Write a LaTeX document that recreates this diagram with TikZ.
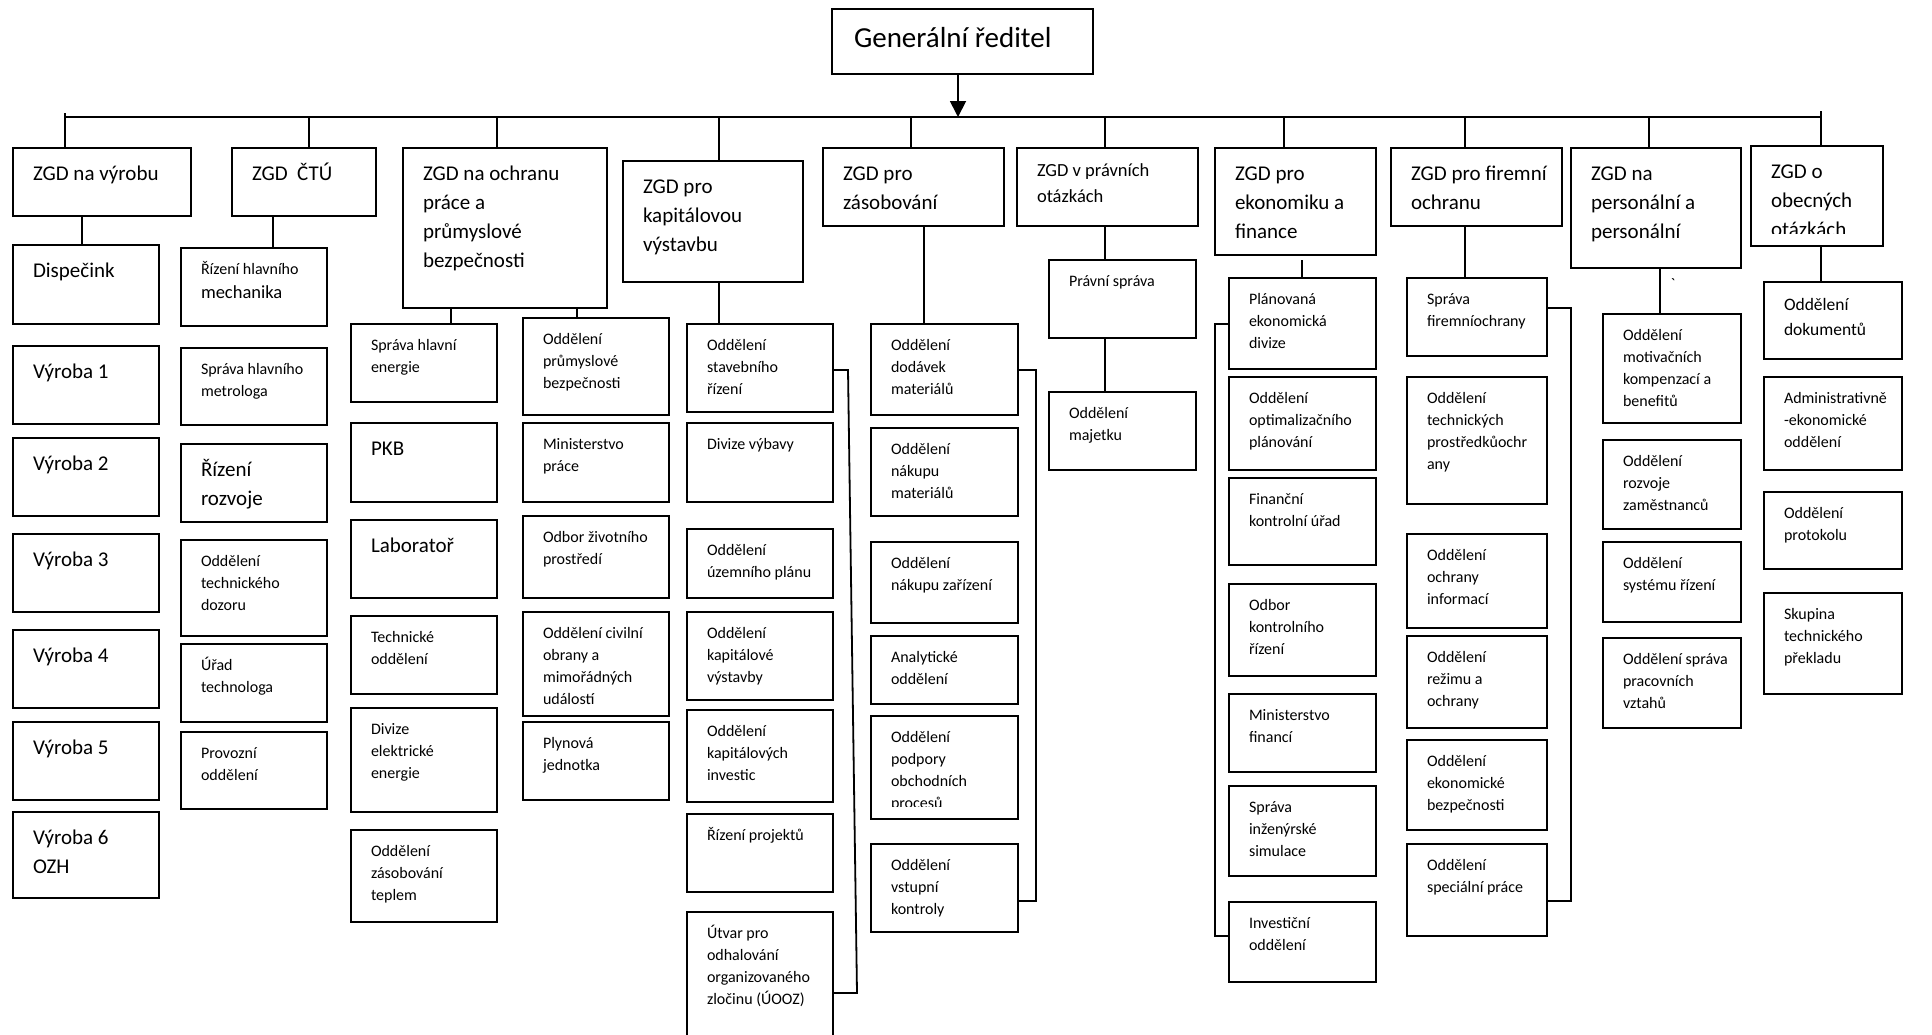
\documentclass[tikz,border=0pt]{standalone}
\usepackage{fontspec}
\setmainfont{Carlito}
\usetikzlibrary{arrows.meta}
\tikzset{
 boxst/.style={draw, line width=2.4pt, rectangle, inner sep=0pt, outer sep=0pt},
 conn/.style={line width=1.8pt},
 txt/.style={inner sep=0pt, outer sep=0pt, anchor=base west},
 big/.style={font=\fontsize{21}{29}\selectfont, yshift=-32pt},
 sml/.style={font=\fontsize{16}{22}\selectfont, yshift=-26pt},
 mid/.style={font=\fontsize{18.5}{26}\selectfont, yshift=-28pt},
 doc/.style={font=\fontsize{17.5}{25}\selectfont, yshift=-28pt},
 gdf/.style={font=\fontsize{29}{35}\selectfont, yshift=-38pt, xshift=2pt},
}
\newcommand\obox[7]{%
 \node[boxst, minimum width={(#4-#2)*1pt}, minimum height={(#5-#3)*1pt}, anchor=north west] (#1) at (#2,#3) {};
 \node[txt, #6] (#1-t) at ([xshift=20pt]#1.north west) {\begin{tabular}[t]{@{}l@{}}#7\end{tabular}};}
\newcommand\oboxc[8]{%
 \node[boxst, minimum width={(#4-#2)*1pt}, minimum height={(#5-#3)*1pt}, anchor=north west] (#1) at (#2,#3) {};
 \begin{scope}
 \clip (#2,#3) rectangle (#4,#8);
 \node[txt, #6] (#1-t) at ([xshift=20pt]#1.north west) {\begin{tabular}[t]{@{}l@{}}#7\end{tabular}};
 \end{scope}}
\begin{document}
\begin{tikzpicture}[x=1pt,y=-1pt]
\useasboundingbox (0,0) rectangle (1932,1034);
\clip (0,0) rectangle (1932,1034);
\fill[white] (0,0) rectangle (1932,1034);

% top
\obox{gd}{832}{9}{1093}{74}{gdf}{Generální ředitel}

% level 1
\obox{z1}{13}{148}{191}{216}{big}{ZGD na výrobu}
\obox{z2}{232}{148}{376}{216}{big}{ZGD\ \ ČTÚ}
\obox{z3}{403}{148}{607}{308}{big}{ZGD na ochranu\\práce a\\průmyslové\\bezpečnosti}
\obox{z4}{623}{161}{803}{282}{big}{ZGD pro\\kapitálovou\\výstavbu}
\obox{z5}{823}{148}{1004}{226}{big}{ZGD pro\\zásobování}
\obox{z6}{1017}{148}{1198}{226}{mid}{ZGD v právních\\otázkách}
\obox{z7}{1215}{148}{1376}{255}{big}{ZGD pro\\ekonomiku a\\finance}
\obox{z8}{1391}{148}{1562}{226}{big}{ZGD pro firemní\\ochranu}
\obox{z9}{1571}{148}{1741}{268}{big}{ZGD na\\personální a\\personální}
\oboxc{z10}{1751}{146}{1883}{246}{big}{ZGD o\\obecných\\otázkách}{233}

% column 1
\obox{disp}{13}{245}{159}{324}{big}{Dispečink}
\obox{v1}{13}{346}{159}{424}{big}{Výroba 1}
\obox{v2}{13}{438}{159}{516}{big}{Výroba 2}
\obox{v3}{13}{534}{159}{612}{big}{Výroba 3}
\obox{v4}{13}{630}{159}{708}{big}{Výroba 4}
\obox{v5}{13}{722}{159}{800}{big}{Výroba 5}
\obox{v6}{13}{812}{159}{898}{big}{Výroba 6\\OZH}

% column 2
\obox{mech}{181}{248}{327}{326}{sml}{Řízení hlavního\\[2pt]{\fontsize{18.5}{22}\selectfont mechanika}}
\obox{metr}{181}{348}{327}{425}{sml}{Správa hlavního\\metrologa}
\obox{rozv}{181}{444}{327}{522}{big}{Řízení\\rozvoje}
\obox{dozor}{181}{540}{327}{636}{sml}{Oddělení\\technického\\dozoru}
\obox{techn}{181}{644}{327}{722}{sml}{Úřad\\technologa}
\obox{prov}{181}{732}{327}{809}{sml}{Provozní\\oddělení}

% column 3
\obox{ener}{351}{324}{497}{402}{sml}{Správa hlavní\\energie}
\obox{pkb}{351}{423}{497}{502}{big}{PKB}
\obox{lab}{351}{520}{497}{598}{big}{Laboratoř}
\obox{tech}{351}{616}{497}{694}{sml}{Technické\\oddělení}
\obox{elek}{351}{708}{497}{812}{sml}{Divize\\elektrické\\energie}
\obox{tepl}{351}{830}{497}{922}{sml}{Oddělení\\zásobování\\teplem}

% column 4
\obox{prum}{523}{318}{669}{415}{sml}{Oddělení\\průmyslové\\bezpečnosti}
\obox{minp}{523}{423}{669}{502}{sml}{Ministerstvo\\práce}
\obox{ziv}{523}{516}{669}{598}{sml}{Odbor životního\\prostředí}
\obox{civ}{523}{612}{669}{716}{sml}{Oddělení civilní\\obrany a\\mimořádných\\událostí}
\obox{plyn}{523}{722}{669}{800}{sml}{Plynová\\jednotka}

% column 5
\obox{stav}{687}{324}{833}{412}{sml}{Oddělení\\stavebního\\řízení}
\obox{vyb}{687}{423}{833}{502}{sml}{Divize výbavy}
\obox{uzem}{687}{529}{833}{598}{sml}{Oddělení\\územního plánu}
\obox{kapv}{687}{612}{833}{700}{sml}{Oddělení\\kapitálové\\výstavby}
\obox{kapi}{687}{710}{833}{802}{sml}{Oddělení\\kapitálových\\investic}
\obox{proj}{687}{814}{833}{892}{sml}{Řízení projektů}
\obox{utv}{687}{912}{833}{1045}{sml}{Útvar pro\\odhalování\\organizovaného\\zločinu (ÚOOZ)}

% column 6
\obox{dod}{871}{324}{1018}{415}{sml}{Oddělení\\dodávek\\materiálů}
\obox{nakm}{871}{428}{1018}{516}{sml}{Oddělení\\nákupu\\materiálů}
\obox{nakz}{871}{542}{1018}{623}{sml}{Oddělení\\nákupu zařízení}
\obox{anal}{871}{636}{1018}{704}{sml}{Analytické\\oddělení}
\oboxc{podp}{871}{716}{1018}{819}{sml}{Oddělení\\podpory\\obchodních\\procesů}{806}
\obox{vstup}{871}{844}{1018}{932}{sml}{Oddělení\\vstupní\\kontroly}

% column 7
\obox{prav}{1049}{260}{1196}{338}{sml}{Právní správa}
\obox{maj}{1049}{392}{1196}{470}{sml}{Oddělení\\majetku}

% column 8
\obox{plan}{1229}{278}{1376}{369}{sml}{Plánovaná\\ekonomická\\divize}
\obox{opt}{1229}{377}{1376}{470}{sml}{Oddělení\\optimalizačního\\plánování}
\obox{fin}{1229}{478}{1376}{565}{sml}{Finanční\\kontrolní úřad}
\obox{odb}{1229}{584}{1376}{676}{sml}{Odbor\\kontrolního\\řízení}
\obox{minf}{1229}{694}{1376}{772}{sml}{Ministerstvo\\financí}
\obox{simu}{1229}{786}{1376}{876}{sml}{Správa\\inženýrské\\simulace}
\obox{inv}{1229}{902}{1376}{982}{sml}{Investiční\\oddělení}

% column 9
\obox{sprf}{1407}{278}{1547}{356}{sml}{Správa\\firemníochrany}
\obox{tpo}{1407}{377}{1547}{504}{sml}{Oddělení\\technických\\prostředkůochr\\any}
\obox{info}{1407}{534}{1547}{628}{sml}{Oddělení\\ochrany\\informací}
\obox{rez}{1407}{636}{1547}{728}{sml}{Oddělení\\režimu a\\ochrany}
\obox{ekb}{1407}{740}{1547}{830}{sml}{Oddělení\\ekonomické\\bezpečnosti}
\obox{spec}{1407}{844}{1547}{936}{sml}{Oddělení\\speciální práce}

% column 10
\obox{mot}{1603}{314}{1741}{423}{sml}{Oddělení\\motivačních\\kompenzací a\\benefitů}
\obox{rzam}{1603}{440}{1741}{529}{sml}{Oddělení\\rozvoje\\zaměstnanců}
\obox{sys}{1603}{542}{1741}{622}{sml}{Oddělení\\systému řízení}
\obox{prac}{1603}{638}{1741}{728}{sml}{Oddělení správa\\pracovních\\vztahů}
\node[font=\fontsize{16}{20}\selectfont, inner sep=0pt] (tick) at (1673,284) {\textasciigrave};

% column 11
\obox{dok}{1764}{282}{1902}{359}{doc}{Oddělení\\dokumentů}
\obox{adm}{1764}{377}{1902}{470}{sml}{Administrativně\\-ekonomické\\oddělení}
\obox{prot}{1764}{492}{1902}{569}{sml}{Oddělení\\protokolu}
\obox{skup}{1764}{593}{1902}{694}{sml}{Skupina\\technického\\překladu}

% bus and arrow
\coordinate (busL) at (65,117);
\coordinate (busR) at (1821,117);
\draw[conn] (busL) -- (busR);
\coordinate (ax) at (958,117);
\draw[conn, -{Triangle[width=16pt,length=16pt]}] (gd.south -| ax) -- (ax);

% drops to level 1
\coordinate (k1) at (65,113);
\coordinate (k2) at (309,117);
\coordinate (k3) at (497,117);
\coordinate (k4) at (719,117);
\coordinate (k5) at (911,117);
\coordinate (k6) at (1105,117);
\coordinate (k7) at (1284,117);
\coordinate (k8) at (1465,117);
\coordinate (k9) at (1649,117);
\coordinate (k10) at (1821,111);
\draw[conn] (k1) -- (k1 |- z1.north);
\draw[conn] (k2) -- (k2 |- z2.north);
\draw[conn] (k3) -- (k3 |- z3.north);
\draw[conn] (k4) -- (k4 |- z4.north);
\draw[conn] (k5) -- (k5 |- z5.north);
\draw[conn] (k6) -- (k6 |- z6.north);
\draw[conn] (k7) -- (k7 |- z7.north);
\draw[conn] (k8) -- (k8 |- z8.north);
\draw[conn] (k9) -- (k9 |- z9.north);
\draw[conn] (k10) -- (k10 |- z10.north);

% children connectors
\coordinate (c1) at (82,0);
\coordinate (c2) at (273,0);
\coordinate (c3a) at (451,0);
\coordinate (c3b) at (577,0);
\coordinate (c4) at (719,0);
\coordinate (c5) at (924,0);
\coordinate (c6) at (1105,0);
\coordinate (c8) at (1465,0);
\coordinate (c9) at (1660,0);
\coordinate (c10) at (1821,0);
\draw[conn] (z1.south -| c1) -- (disp.north -| c1);
\draw[conn] (z2.south -| c2) -- (mech.north -| c2);
\draw[conn] (z3.south -| c3a) -- (ener.north -| c3a);
\draw[conn] (z3.south -| c3b) -- (prum.north -| c3b);
\draw[conn] (z4.south -| c4) -- (stav.north -| c4);
\draw[conn] (z5.south -| c5) -- (dod.north -| c5);
\draw[conn] (z6.south -| c6) -- (prav.north -| c6);
\draw[conn] (prav.south -| c6) -- (maj.north -| c6);
\coordinate (c7) at (1302,260);
\draw[conn] (c7) -- (c7 |- plan.north);
\draw[conn] (z8.south -| c8) -- (sprf.north -| c8);
\draw[conn] (z9.south -| c9) -- (mot.north -| c9);
\draw[conn] (z10.south -| c10) -- (dok.north -| c10);

% brackets
\coordinate (b5t) at (848,370);
\coordinate (b5b) at (857,993);
\draw[conn] (b5t -| stav.east) -- (b5t) -- (b5b) -- (b5b -| utv.east);
\coordinate (b6t) at (1036,370);
\coordinate (b6b) at (1036,901);
\draw[conn] (b6t -| dod.east) -- (b6t) -- (b6b) -- (b6b -| vstup.east);
\coordinate (b8t) at (1215,324);
\coordinate (b8b) at (1215,936);
\draw[conn] (b8t -| plan.west) -- (b8t) -- (b8b) -- (b8b -| inv.west);
\coordinate (b9t) at (1571,308);
\coordinate (b9b) at (1571,901);
\draw[conn] (b9t -| sprf.east) -- (b9t) -- (b9b) -- (b9b -| spec.east);
\end{tikzpicture}
\end{document}
